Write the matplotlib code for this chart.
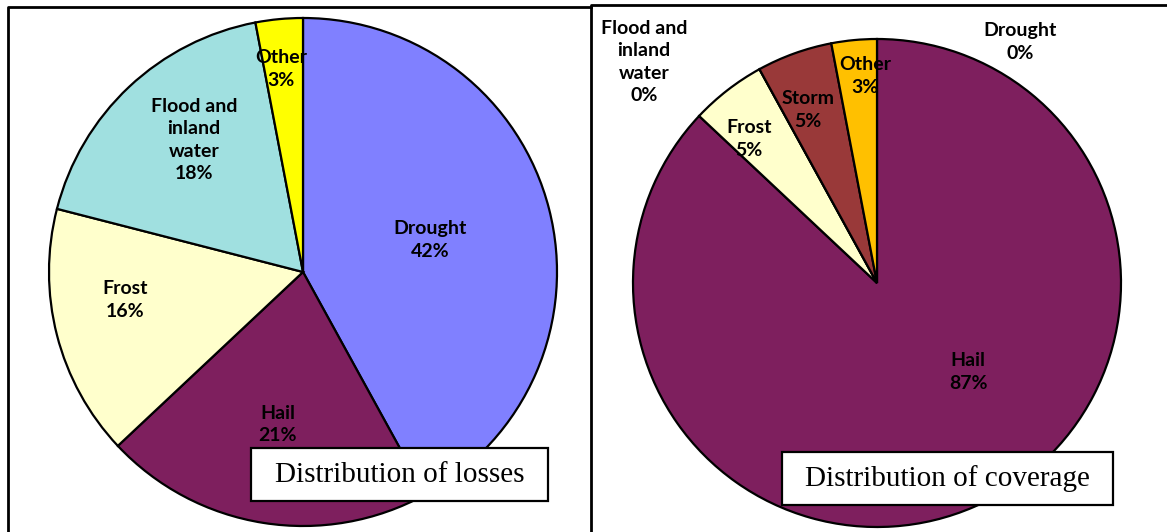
import matplotlib
matplotlib.use("Agg")
import matplotlib.pyplot as plt
from matplotlib.patches import Rectangle

# data
loss_names = ["Drought", "Hail", "Frost", "Flood and\ninland\nwater", "Other"]
loss_values = [42, 21, 16, 18, 3]
loss_colors = ["#8080FF", "#7E1F5E", "#FFFFCC", "#A0E0E0", "#FFFF00"]

cov_names = ["Drought", "Hail", "Frost", "Flood and\ninland\nwater", "Storm", "Other"]
cov_values = [0, 87, 5, 0, 5, 3]
cov_colors = ["#8080FF", "#7E1F5E", "#FFFFCC", "#A0E0E0", "#993939", "#FFC000"]

# label offsets from the pie centre, in radius units
loss_label_pos = [(0.50, 0.126), (-0.10, -0.60), (-0.70, -0.11), (-0.43, 0.52), (-0.087, 0.80)]
cov_label_pos = [(0.586, 0.988), (0.373, -0.365), (-0.525, 0.59), (-0.955, 0.906), (-0.283, 0.709), (-0.049, 0.848)]

W, H = 1167, 532
fig = plt.figure(figsize=(W / 100, H / 100), dpi=100)
ax = fig.add_axes([0, 0, 1, 1])

lab_font = dict(family="Lato", weight="bold", size=14)


def draw_pie(values, names, colors, pos, cx, cy, r, title, box):
    ax.pie(values, colors=colors, startangle=90, counterclock=False,
           center=(cx, H - cy), radius=r,
           wedgeprops=dict(edgecolor="black", linewidth=1.6))
    for (dx, dy), n, v in zip(pos, names, values):
        ax.text(cx + dx * r, H - cy + dy * r, "%s\n%d%%" % (n, v),
                ha="center", va="center", color="black", linespacing=1.4, **lab_font)
    x0, y0, x1, y1 = box
    ax.add_patch(Rectangle((x0, H - y1), x1 - x0, y1 - y0, facecolor="white",
                           edgecolor="black", linewidth=1.6, zorder=5))
    ax.text((x0 + x1) / 2, H - (y0 + y1) / 2, title, ha="center", va="center",
            family="Liberation Serif", size=21, zorder=6)


draw_pie(loss_values, loss_names, loss_colors, loss_label_pos, 303, 272, 254,
         "Distribution of losses", (251, 448, 548, 501))
draw_pie(cov_values, cov_names, cov_colors, cov_label_pos, 877, 283, 244,
         "Distribution of coverage", (782, 452, 1113, 505))

# panel frames
ax.plot([8, 8, 591], [0, H - 7, H - 7], color="black", lw=2)
ax.plot([591, 591, W], [0, H - 5, H - 5], color="black", lw=2)

ax.set_aspect("auto")
ax.set_xlim(0, W)
ax.set_ylim(0, H)
ax.axis("off")

fig.savefig("out.png", dpi=100)
